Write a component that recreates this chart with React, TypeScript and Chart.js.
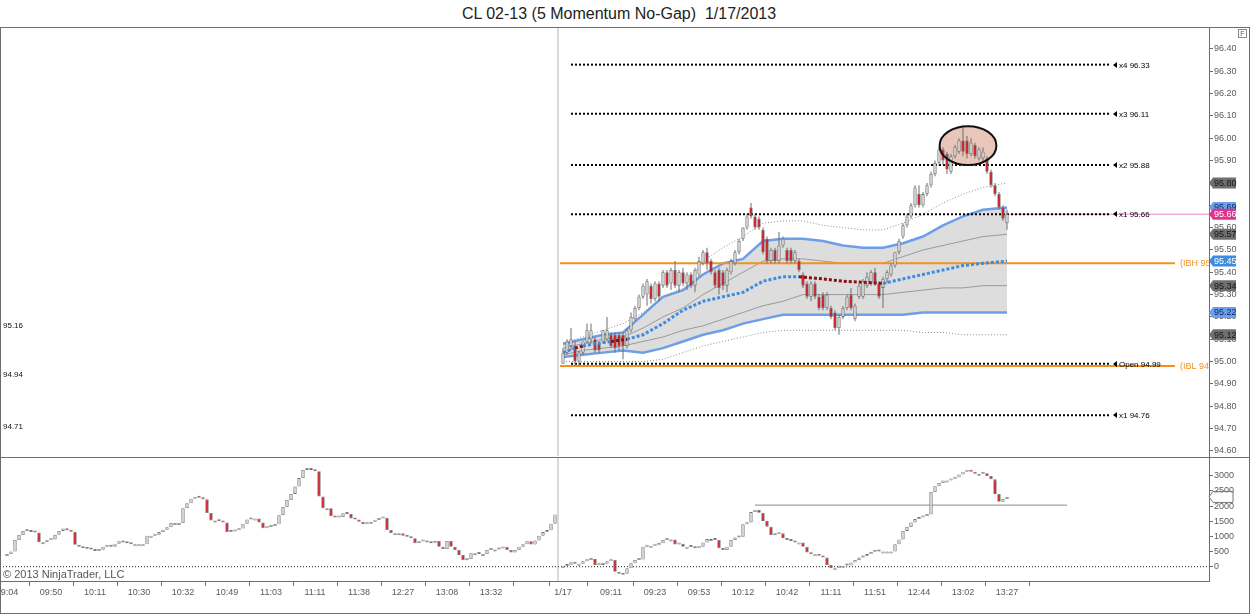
import React, { useEffect, useRef } from 'react';
import { Chart, registerables } from 'chart.js';

Chart.register(...registerables);

const FONT = '"Liberation Sans", Arial, sans-serif';
const TITLE = 'CL 02-13 (5 Momentum No-Gap)  1/17/2013';

// ---- bar slots (shared x axis, one unit = one bar) ----
const LEFT_BARS = 138;
const RIGHT_OFFSET = LEFT_BARS + 1;
const X_MIN = -1.75;
const X_MAX = 300.5;
const SESSION_BREAK = 137.75;

// ---- price panel: 1/17 session candles ----
const priceOpen = [
  94.99, 95.04, 95.07, 95.07, 95.00, 95.04, 95.09, 95.10, 95.10, 95.08,
  95.09, 95.10, 95.12, 95.12, 95.12, 95.12, 95.07, 95.14, 95.19, 95.24,
  95.29, 95.30, 95.34, 95.28, 95.35, 95.34, 95.40, 95.35, 95.41, 95.34,
  95.40, 95.35, 95.39, 95.34, 95.39, 95.44, 95.49, 95.45, 95.40, 95.41,
  95.40, 95.34, 95.40, 95.44, 95.49, 95.55, 95.60, 95.69, 95.65, 95.64,
  95.59, 95.55, 95.45, 95.50, 95.45, 95.52, 95.50, 95.50, 95.45, 95.45,
  95.39, 95.35, 95.29, 95.35, 95.29, 95.30, 95.24, 95.24, 95.22, 95.15,
  95.20, 95.24, 95.30, 95.19, 95.29, 95.29, 95.34, 95.35, 95.40, 95.35,
  95.33, 95.37, 95.39, 95.43, 95.49, 95.56, 95.61, 95.65, 95.70, 95.75,
  95.70, 95.75, 95.79, 95.84, 95.89, 95.95, 95.93, 95.85, 95.92, 95.94,
  95.99, 95.99, 95.93, 95.97, 95.91, 95.91, 95.91, 95.85, 95.79, 95.75,
  95.69, 95.62,
];
const priceHigh = [
  95.06, 95.10, 95.15, 95.09, 95.05, 95.09, 95.17, 95.17, 95.11, 95.09,
  95.14, 95.20, 95.13, 95.13, 95.13, 95.13, 95.15, 95.22, 95.25, 95.30,
  95.35, 95.37, 95.35, 95.36, 95.36, 95.41, 95.41, 95.42, 95.45, 95.41,
  95.42, 95.40, 95.40, 95.42, 95.47, 95.50, 95.51, 95.46, 95.41, 95.42,
  95.41, 95.42, 95.46, 95.50, 95.55, 95.60, 95.66, 95.71, 95.66, 95.65,
  95.60, 95.56, 95.51, 95.51, 95.58, 95.56, 95.51, 95.51, 95.50, 95.46,
  95.40, 95.36, 95.36, 95.36, 95.30, 95.31, 95.31, 95.25, 95.23, 95.21,
  95.25, 95.30, 95.33, 95.26, 95.35, 95.37, 95.40, 95.41, 95.42, 95.36,
  95.38, 95.41, 95.44, 95.49, 95.55, 95.62, 95.66, 95.71, 95.79, 95.79,
  95.76, 95.80, 95.85, 95.90, 95.96, 95.96, 95.94, 95.93, 95.97, 96.00,
  96.05, 96.01, 96.00, 95.98, 95.96, 95.96, 95.92, 95.86, 95.80, 95.76,
  95.70, 95.68,
];
const priceLow = [
  94.99, 95.03, 95.05, 94.98, 94.98, 95.03, 95.08, 95.08, 95.04, 95.04,
  95.08, 95.09, 95.06, 95.04, 95.05, 95.01, 95.06, 95.13, 95.18, 95.23,
  95.28, 95.25, 95.26, 95.27, 95.27, 95.33, 95.33, 95.32, 95.33, 95.31,
  95.34, 95.32, 95.33, 95.31, 95.38, 95.43, 95.41, 95.39, 95.33, 95.30,
  95.32, 95.31, 95.39, 95.43, 95.48, 95.54, 95.59, 95.64, 95.59, 95.59,
  95.48, 95.44, 95.44, 95.44, 95.44, 95.51, 95.44, 95.44, 95.44, 95.40,
  95.33, 95.28, 95.27, 95.28, 95.23, 95.23, 95.23, 95.19, 95.14, 95.12,
  95.19, 95.23, 95.23, 95.18, 95.28, 95.28, 95.33, 95.34, 95.34, 95.28,
  95.24, 95.35, 95.38, 95.42, 95.48, 95.55, 95.60, 95.64, 95.69, 95.69,
  95.69, 95.74, 95.78, 95.83, 95.88, 95.88, 95.84, 95.84, 95.91, 95.93,
  95.92, 95.91, 95.92, 95.91, 95.90, 95.89, 95.84, 95.78, 95.74, 95.68,
  95.63, 95.59,
];
const priceClose = [
  95.04, 95.09, 95.10, 95.00, 95.04, 95.09, 95.14, 95.14, 95.05, 95.05,
  95.14, 95.14, 95.07, 95.06, 95.07, 95.07, 95.14, 95.20, 95.24, 95.29,
  95.34, 95.36, 95.28, 95.35, 95.29, 95.40, 95.34, 95.41, 95.34, 95.40,
  95.35, 95.39, 95.34, 95.41, 95.45, 95.49, 95.44, 95.40, 95.34, 95.33,
  95.34, 95.41, 95.45, 95.49, 95.54, 95.60, 95.65, 95.65, 95.60, 95.60,
  95.49, 95.45, 95.50, 95.45, 95.52, 95.55, 95.45, 95.45, 95.49, 95.41,
  95.34, 95.29, 95.35, 95.29, 95.24, 95.24, 95.30, 95.20, 95.15, 95.20,
  95.24, 95.29, 95.24, 95.25, 95.34, 95.36, 95.38, 95.40, 95.35, 95.29,
  95.37, 95.40, 95.43, 95.49, 95.54, 95.61, 95.65, 95.70, 95.78, 95.70,
  95.75, 95.79, 95.84, 95.89, 95.95, 95.90, 95.86, 95.92, 95.96, 95.99,
  95.94, 95.93, 95.98, 95.92, 95.95, 95.94, 95.85, 95.79, 95.75, 95.69,
  95.64, 95.66,
];

// ---- VWAP bands, read at these bars ----
const bandBars = [0, 5, 10, 15, 20, 25, 30, 35, 40, 45, 50, 55, 60, 65, 70, 75, 80, 85, 90, 95, 100, 105, 111];
const upper3 = [95.08, 95.11, 95.14, 95.17, 95.22, 95.29, 95.33, 95.45, 95.51, 95.56, 95.62, 95.63, 95.63, 95.61, 95.60, 95.59, 95.59, 95.62, 95.66, 95.71, 95.75, 95.78, 95.80];
const upper2 = [95.08, 95.10, 95.12, 95.13, 95.21, 95.29, 95.32, 95.39, 95.44, 95.46, 95.54, 95.55, 95.55, 95.54, 95.52, 95.51, 95.51, 95.53, 95.56, 95.61, 95.65, 95.68, 95.69];
const upper1 = [95.06, 95.08, 95.10, 95.11, 95.15, 95.20, 95.24, 95.30, 95.35, 95.40, 95.45, 95.46, 95.46, 95.45, 95.44, 95.44, 95.44, 95.47, 95.50, 95.52, 95.54, 95.56, 95.57];
const lower1 = [95.03, 95.05, 95.06, 95.07, 95.09, 95.11, 95.14, 95.16, 95.19, 95.22, 95.25, 95.27, 95.30, 95.30, 95.30, 95.30, 95.30, 95.31, 95.32, 95.33, 95.33, 95.34, 95.34];
const lower2 = [95.02, 95.03, 95.04, 95.05, 95.04, 95.06, 95.09, 95.12, 95.14, 95.17, 95.19, 95.21, 95.21, 95.21, 95.21, 95.21, 95.21, 95.21, 95.22, 95.22, 95.22, 95.22, 95.22];
const lower3 = [95.00, 95.00, 95.00, 95.00, 95.00, 95.01, 95.04, 95.07, 95.09, 95.11, 95.13, 95.14, 95.14, 95.14, 95.14, 95.14, 95.14, 95.14, 95.13, 95.13, 95.12, 95.12, 95.12];
const midBars = [0, 3, 5, 8, 12, 16, 20, 25, 30, 35, 40, 45, 50, 55, 59, 65, 70, 75, 80, 85, 90, 95, 100, 105, 111];
const midValues = [95.04, 95.06, 95.07, 95.08, 95.09, 95.10, 95.12, 95.17, 95.23, 95.27, 95.29, 95.31, 95.36, 95.38, 95.38, 95.37, 95.36, 95.355, 95.35, 95.37, 95.39, 95.41, 95.43, 95.44, 95.45];
const midBelowRanges = [[3, 5], [12, 16], [59, 80]];

// ---- levels ----
const levelNames = ['x4', 'x3', 'x2', 'x1', 'Open', 'x1'];
const levelValues = [96.33, 96.11, 95.88, 95.66, 94.99, 94.76];
const LEVEL_FROM_BAR = 2;
const LEVEL_TO_BAR = 137;
const ibNames = ['IBH', 'IBL'];
const ibValues = [95.44, 94.98];
const IB_FROM_BAR = -0.75;
const IB_TO_BAR = 153;
const prevSessionLabels = [95.16, 94.94, 94.71];
const priceTicks = [94.6, 94.7, 94.8, 94.9, 95.0, 95.1, 95.2, 95.3, 95.4, 95.5, 95.6, 95.7, 95.8, 95.9, 96.0, 96.1, 96.2, 96.3, 96.4];
const PRICE_MIN = 94.577;
const PRICE_MAX = 96.4985;

// highlighted top (ellipse) in bar / price units
const highlightBar = 101.25;
const highlightPrice = 95.967;
const highlightHalfBars = 7.1;
const highlightHalfPrice = 0.087;

// ---- momentum panel (closes) ----
const momentumLeft = [
  420, 500, 880, 1045, 1180, 1170, 1140, 1130, 810, 810,
  870, 900, 1050, 1180, 1260, 1200, 1150, 720, 660, 610,
  590, 570, 520, 560, 660, 680, 660, 760, 840, 800,
  770, 740, 740, 740, 740, 1020, 1020, 1050, 1140, 1220,
  1300, 1440, 1440, 1440, 1930, 2090, 2240, 2300, 2270, 2220,
  1770, 1520, 1520, 1500, 1460, 1140, 1160, 1200, 1260, 1420,
  1560, 1590, 1590, 1460, 1270, 1310, 1340, 1400, 1700, 1970,
  2200, 2400, 2640, 2920, 3190, 3250, 3190, 3150, 2310, 1930,
  1930, 1670, 1620, 1640, 1760, 1740, 1590, 1560, 1480, 1400,
  1420, 1480, 1540, 1590, 1610, 1210, 1100, 1100, 1100, 1020,
  990, 940, 770, 830, 850, 800, 770, 850, 660, 580,
  850, 660, 550, 390, 210, 250, 440, 440, 420, 420,
  550, 570, 570, 600, 660, 550, 470, 550, 660, 740,
  840, 730, 860, 1020, 1140, 1200, 1420, 1720,
];
const momentumRight = [
  20, 50, 150, 100, 100, 180, 220, 250, 50, 60,
  100, 180, 220, -170, -200, -230, -50, 110, 220, 240,
  660, 690, 690, 720, 770, 880, 900, 900, 730, 760,
  660, 660, 650, 610, 660, 800, 910, 910, 880, 610,
  550, 660, 880, 960, 990, 1400, 1460, 1800, 1880, 1780,
  1510, 1320, 1040, 1070, 1100, 950, 880, 850, 800, 800,
  660, 470, 410, 410, 360, 300, 55, -50, -50, 0,
  60, 40, 140, 220, 300, 350, 410, 490, 520, 500,
  500, 500, 500, 740, 900, 1180, 1310, 1460, 1570, 1620,
  1670, 1720, 2460, 2650, 2760, 2840, 2840, 2900, 2950, 3040,
  3130, 3150, 3130, 3060, 3060, 3080, 2990, 2880, 2400, 2140,
  2230, 2300,
];
const MOMENTUM_LEFT_OPEN = 350;
const MOMENTUM_RIGHT_OPEN = 0;
const momentumRefLevel = 2030;
const REF_FROM_BAR = 48;
const REF_TO_BAR = 126;
const momentumTicks = [0, 500, 1000, 1500, 2000, 2500, 3000];
const MOM_MIN = -471;
const MOM_MAX = 3583;

const timeTickBarsLeft = [0, 11, 22, 33, 44, 55, 66, 77, 88, 99, 110, 121, 132];
const timeTickLabelsLeft = ['09:04', '09:50', '10:11', '10:30', '10:32', '10:49', '11:03', '11:11', '11:38', '12:27', '13:08', '13:32', ''];
const timeTickBarsRight = [0, 12, 23, 34, 45, 56, 67, 78, 89, 100, 111];
const timeTickLabelsRight = ['1/17', '09:11', '09:23', '09:53', '10:12', '10:42', '11:11', '11:51', '12:44', '13:02', '13:27'];

// ---- styles ----
const FRAME = '#6d6d6d';
const TICK_TXT = '#5a5a5a';
const UP_FILL = '#d2d2d2';
const DOWN_FILL = '#cc1f2a';
const CANDLE_EDGE = '#707070';
const BLUE_BAND = '#6d9ee8';
const MID_BLUE = '#3b8de0';
const MID_MAROON = '#8b1010';
const BAND_FILL = 'rgba(200,200,200,0.62)';
const ORANGE = '#f5901e';
const PINK = '#e0348c';
const AXIS_W = 41;

const xr = (j: number) => RIGHT_OFFSET + j;

function lineDs(data: any[], color: string, width: number, dash: number[], order: number, extra: any = {}) {
  return {
    type: 'line', data, borderColor: color, borderWidth: width, borderDash: dash,
    pointRadius: 0, pointHoverRadius: 0, tension: 0, fill: false, order, borderCapStyle: 'butt', ...extra,
  };
}

function drawTag(ctx: CanvasRenderingContext2D, x: number, y: number, w: number, fill: string, stroke: string | null, text: string, textColor: string) {
  ctx.beginPath();
  ctx.moveTo(x, y);
  ctx.lineTo(x + 4, y - 5.5);
  ctx.lineTo(x + w, y - 5.5);
  ctx.lineTo(x + w, y + 5.5);
  ctx.lineTo(x + 4, y + 5.5);
  ctx.closePath();
  ctx.fillStyle = fill;
  ctx.fill();
  if (stroke) { ctx.strokeStyle = stroke; ctx.lineWidth = 1; ctx.stroke(); }
  ctx.fillStyle = textColor;
  ctx.font = `9px ${FONT}`;
  ctx.textBaseline = 'middle';
  ctx.textAlign = 'left';
  ctx.fillText(text, x + 5, y + 0.5);
}

const noPadY = (s: any) => { s.width = AXIS_W; s.paddingTop = 0; s.paddingBottom = 0; };

export default function App() {
  const mainRef = useRef<HTMLCanvasElement>(null);
  const lowRef = useRef<HTMLCanvasElement>(null);

  useEffect(() => {
    Chart.defaults.font.family = FONT;
    const seg = (bars: number[], vals: number[]) => bars.map((b, k) => ({ x: xr(b), y: vals[k] }));
    const hline = (a: number, b: number, v: number) => [{ x: a, y: v }, { x: b, y: v }];
    const isBelow = (a: number, b: number) => midBelowRanges.some(r => a >= r[0] && b <= r[1]);

    const wickData = priceClose.map((c, j) => ({ x: xr(j), y: [priceLow[j], priceHigh[j]] }));
    const bodyData = priceClose.map((c, j) => ({ x: xr(j), y: [priceOpen[j], c] }));
    const bodyColors = priceClose.map((c, j) => (c >= priceOpen[j] ? UP_FILL : DOWN_FILL));
    const lastClose = priceClose[priceClose.length - 1];

    const datasets: any[] = [
      lineDs(seg(bandBars, lower2), BLUE_BAND, 2.5, [], 40),
      lineDs(seg(bandBars, upper2), BLUE_BAND, 2.5, [], 50, { fill: { target: 0 }, backgroundColor: BAND_FILL }),
      lineDs(seg(bandBars, upper1), '#9a9a9a', 1, [], 41),
      lineDs(seg(bandBars, lower1), '#9a9a9a', 1, [], 41),
      lineDs(seg(bandBars, upper3), '#8c8c8c', 1, [1, 2], 41),
      lineDs(seg(bandBars, lower3), '#8c8c8c', 1, [1, 2], 41),
      lineDs(seg(midBars, midValues), MID_BLUE, 3, [3, 2], 3, {
        segment: {
          borderColor: (c: any) => (isBelow(midBars[c.p0DataIndex], midBars[c.p1DataIndex]) ? MID_MAROON : MID_BLUE),
        },
      }),
      ...levelValues.map(v => lineDs(hline(xr(LEVEL_FROM_BAR), xr(LEVEL_TO_BAR), v), '#000', 2, [2, 2], 30)),
      ...ibValues.map(v => lineDs(hline(xr(IB_FROM_BAR), xr(IB_TO_BAR), v), ORANGE, 2, [], 31)),
      lineDs(hline(xr(priceClose.length - 0.25), X_MAX, lastClose), '#e68ac4', 1, [], 30),
      lineDs([{ x: SESSION_BREAK, y: PRICE_MIN }, { x: SESSION_BREAK, y: PRICE_MAX }], '#b4b4b4', 1, [], 45),
      { type: 'bar', data: wickData, backgroundColor: '#6f6f6f', borderWidth: 0, barThickness: 1, grouped: false, inflateAmount: 0, order: 5 },
      {
        type: 'bar', data: bodyData, backgroundColor: bodyColors, borderColor: CANDLE_EDGE, borderWidth: 0.8,
        borderSkipped: false, barThickness: 3.4, grouped: false, minBarLength: 1, inflateAmount: 0, order: 4,
      },
    ];

    const mainOverlay = {
      id: 'mainOverlay',
      beforeDatasetsDraw(chart: any) {
        const { ctx, scales: { x, y } } = chart;
        const cx = x.getPixelForValue(xr(highlightBar));
        const cy = y.getPixelForValue(highlightPrice);
        const rx = Math.abs(x.getPixelForValue(xr(highlightBar + highlightHalfBars)) - cx);
        const ry = Math.abs(y.getPixelForValue(highlightPrice + highlightHalfPrice) - cy);
        ctx.save();
        ctx.beginPath();
        ctx.ellipse(cx, cy, rx, ry, 0, 0, Math.PI * 2);
        ctx.fillStyle = '#e8c6b9';
        ctx.fill();
        ctx.restore();
      },
      afterDatasetsDraw(chart: any) {
        const { ctx, chartArea, scales: { x, y } } = chart;
        ctx.save();
        const cx = x.getPixelForValue(xr(highlightBar));
        const cy = y.getPixelForValue(highlightPrice);
        const rx = Math.abs(x.getPixelForValue(xr(highlightBar + highlightHalfBars)) - cx);
        const ry = Math.abs(y.getPixelForValue(highlightPrice + highlightHalfPrice) - cy);
        ctx.beginPath();
        ctx.ellipse(cx, cy, rx, ry, 0, 0, Math.PI * 2);
        ctx.strokeStyle = '#111';
        ctx.lineWidth = 2;
        ctx.stroke();
        const lx = x.getPixelForValue(xr(LEVEL_TO_BAR)) + 2;
        ctx.font = `8px ${FONT}`;
        ctx.textBaseline = 'middle';
        levelValues.forEach((v, k) => {
          const py = Math.round(y.getPixelForValue(v));
          ctx.fillStyle = '#000';
          ctx.beginPath();
          ctx.moveTo(lx, py);
          ctx.lineTo(lx + 4, py - 3);
          ctx.lineTo(lx + 4, py + 3);
          ctx.closePath();
          ctx.fill();
          ctx.fillText(`${levelNames[k]} ${v.toFixed(2)}`, lx + 6, py + 0.5);
        });
        ctx.beginPath();
        ctx.rect(chartArea.left, chartArea.top, chartArea.right - chartArea.left, chartArea.bottom - chartArea.top);
        ctx.clip();
        const ix = x.getPixelForValue(xr(IB_TO_BAR)) + 5;
        ctx.fillStyle = ORANGE;
        ctx.font = `9px ${FONT}`;
        ibValues.forEach((v, k) => {
          ctx.fillText(`(${ibNames[k]} ${v.toFixed(2)})`, ix, y.getPixelForValue(v) + 0.5);
        });
        ctx.fillStyle = '#111';
        ctx.font = `8px ${FONT}`;
        prevSessionLabels.forEach(v => ctx.fillText(v.toFixed(2), chartArea.left + 3, y.getPixelForValue(v)));
        ctx.restore();
      },
      afterDraw(chart: any) {
        const { ctx, chartArea, scales: { y } } = chart;
        const ax = chartArea.right;
        const last = (a: number[]) => a[a.length - 1];
        ctx.save();
        const greyTags = [last(upper3), last(upper1), last(lower1), last(lower3)];
        greyTags.forEach(v => drawTag(ctx, ax, y.getPixelForValue(v), 27, '#6f6f6f', null, v.toFixed(2), '#151515'));
        [last(upper2), last(lower2)].forEach(v => drawTag(ctx, ax, y.getPixelForValue(v), 27, '#6d9ee8', null, v.toFixed(2), '#0d2a66'));
        drawTag(ctx, ax, y.getPixelForValue(last(midValues)), 27, MID_BLUE, null, last(midValues).toFixed(2), '#ffffff');
        drawTag(ctx, ax, y.getPixelForValue(lastClose), 27, PINK, null, lastClose.toFixed(2), '#ffffff');
        ctx.restore();
      },
    };

    const main = new Chart(mainRef.current as HTMLCanvasElement, {
      type: 'line',
      data: { datasets },
      options: {
        animation: false,
        responsive: false,
        events: [],
        layout: { padding: { top: 27, bottom: 1, left: 0, right: 0 }, autoPadding: false },
        plugins: { legend: { display: false }, tooltip: { enabled: false }, title: { display: false } },
        scales: {
          x: { type: 'linear', min: X_MIN, max: X_MAX, display: false, offset: false },
          y: {
            type: 'linear', position: 'right', min: PRICE_MIN, max: PRICE_MAX,
            afterBuildTicks: (s: any) => { s.ticks = priceTicks.map(v => ({ value: v })); },
            afterFit: noPadY,
            ticks: { callback: (v: any) => Number(v).toFixed(2), font: { size: 9 }, color: TICK_TXT, padding: 1, autoSkip: false },
            grid: { drawOnChartArea: false, drawTicks: true, tickLength: 4, color: FRAME },
            border: { display: true, color: FRAME },
          },
        },
      } as any,
      plugins: [mainOverlay],
    } as any);

    const momBars = (closes: number[], firstOpen: number, offset: number) =>
      closes.map((c, k) => ({ x: offset + k, y: [k === 0 ? firstOpen : closes[k - 1], c] }));
    const momData = [
      ...momBars(momentumLeft, MOMENTUM_LEFT_OPEN, 0),
      ...momBars(momentumRight, MOMENTUM_RIGHT_OPEN, RIGHT_OFFSET),
    ];
    const momColors = momData.map(d => (d.y[1] >= d.y[0] ? '#cfcfcf' : DOWN_FILL));
    const timeTickValues = [...timeTickBarsLeft, ...timeTickBarsRight.map(xr)];
    const timeTickLabels = [...timeTickLabelsLeft, ...timeTickLabelsRight];
    const lastMom = momentumRight[momentumRight.length - 1];

    const lowOverlay = {
      id: 'lowOverlay',
      afterDatasetsDraw(chart: any) {
        const { ctx, chartArea } = chart;
        ctx.save();
        ctx.fillStyle = '#555';
        ctx.font = `11px ${FONT}`;
        ctx.textBaseline = 'alphabetic';
        ctx.textAlign = 'left';
        ctx.fillText('\u00A9 2013 NinjaTrader, LLC', chartArea.left + 3, chartArea.bottom - 3);
        ctx.restore();
      },
      afterDraw(chart: any) {
        const { ctx, chartArea, scales: { y } } = chart;
        ctx.save();
        drawTag(ctx, chartArea.right, y.getPixelForValue(lastMom), 24, 'rgba(255,255,255,0.55)', '#777', String(lastMom), 'rgba(255,255,255,0)');
        ctx.restore();
      },
    };

    const low = new Chart(lowRef.current as HTMLCanvasElement, {
      type: 'line',
      data: {
        datasets: [
          lineDs(hline(X_MIN, X_MAX, 0), '#222', 1, [1, 2], 30),
          lineDs(hline(xr(REF_FROM_BAR), xr(REF_TO_BAR), momentumRefLevel), '#8a8a8a', 1, [], 30),
          lineDs([{ x: SESSION_BREAK, y: MOM_MIN }, { x: SESSION_BREAK, y: MOM_MAX }], '#b4b4b4', 1, [], 40),
          {
            type: 'bar', data: momData, backgroundColor: momColors, borderColor: CANDLE_EDGE, borderWidth: 0.8,
            borderSkipped: false, barThickness: 3.4, grouped: false, minBarLength: 2, inflateAmount: 0, order: 4,
          },
        ],
      },
      options: {
        animation: false,
        responsive: false,
        events: [],
        layout: { padding: { top: 1, bottom: 0, left: 0, right: 0 }, autoPadding: false },
        plugins: { legend: { display: false }, tooltip: { enabled: false } },
        scales: {
          x: {
            type: 'linear', min: X_MIN, max: X_MAX, position: 'bottom', offset: false,
            afterBuildTicks: (s: any) => { s.ticks = timeTickValues.map(v => ({ value: v })); },
            afterFit: (s: any) => { s.height = 34; s.paddingLeft = 0; s.paddingRight = 0; },
            ticks: { callback: (_v: any, i: number) => timeTickLabels[i], autoSkip: false, maxRotation: 0, minRotation: 0, font: { size: 9 }, color: TICK_TXT, padding: 1 },
            grid: { drawOnChartArea: false, drawTicks: true, tickLength: 5, color: FRAME },
            border: { display: true, color: FRAME },
          },
          y: {
            type: 'linear', position: 'right', min: MOM_MIN, max: MOM_MAX,
            afterBuildTicks: (s: any) => { s.ticks = momentumTicks.map(v => ({ value: v })); },
            afterFit: noPadY,
            ticks: { callback: (v: any) => String(v), font: { size: 9 }, color: TICK_TXT, padding: 1, autoSkip: false },
            grid: { drawOnChartArea: false, drawTicks: true, tickLength: 4, color: FRAME },
            border: { display: true, color: FRAME },
          },
        },
      } as any,
      plugins: [lowOverlay],
    } as any);

    return () => { main.destroy(); low.destroy(); };
  }, []);

  return (
    <div style={{ position: 'fixed', left: 0, top: 0, width: 1250, height: 615, background: '#fff', fontFamily: FONT, overflow: 'hidden' }}>
      <div style={{ position: 'absolute', left: 0, top: 0, width: 1238, height: 27, lineHeight: '27px', textAlign: 'center', fontSize: 16, color: '#222', whiteSpace: 'pre' }}>{TITLE}</div>
      <canvas ref={mainRef} width={1250} height={457} style={{ position: 'absolute', left: 0, top: 0, width: 1250, height: 457 }} />
      <canvas ref={lowRef} width={1250} height={158} style={{ position: 'absolute', left: 0, top: 457, width: 1250, height: 158 }} />
      <div style={{ position: 'absolute', left: 0, top: 27, width: 1250, height: 587, border: `1px solid ${FRAME}`, boxSizing: 'border-box', pointerEvents: 'none' }} />
      <div style={{ position: 'absolute', left: 0, top: 457, width: 1250, height: 1, background: FRAME, pointerEvents: 'none' }} />
      <div style={{ position: 'absolute', left: 1238, top: 29, width: 9, height: 9, border: '1px solid #888', boxSizing: 'border-box', fontSize: 7, lineHeight: '8px', textAlign: 'center', color: '#555' }}>F</div>
    </div>
  );
}
